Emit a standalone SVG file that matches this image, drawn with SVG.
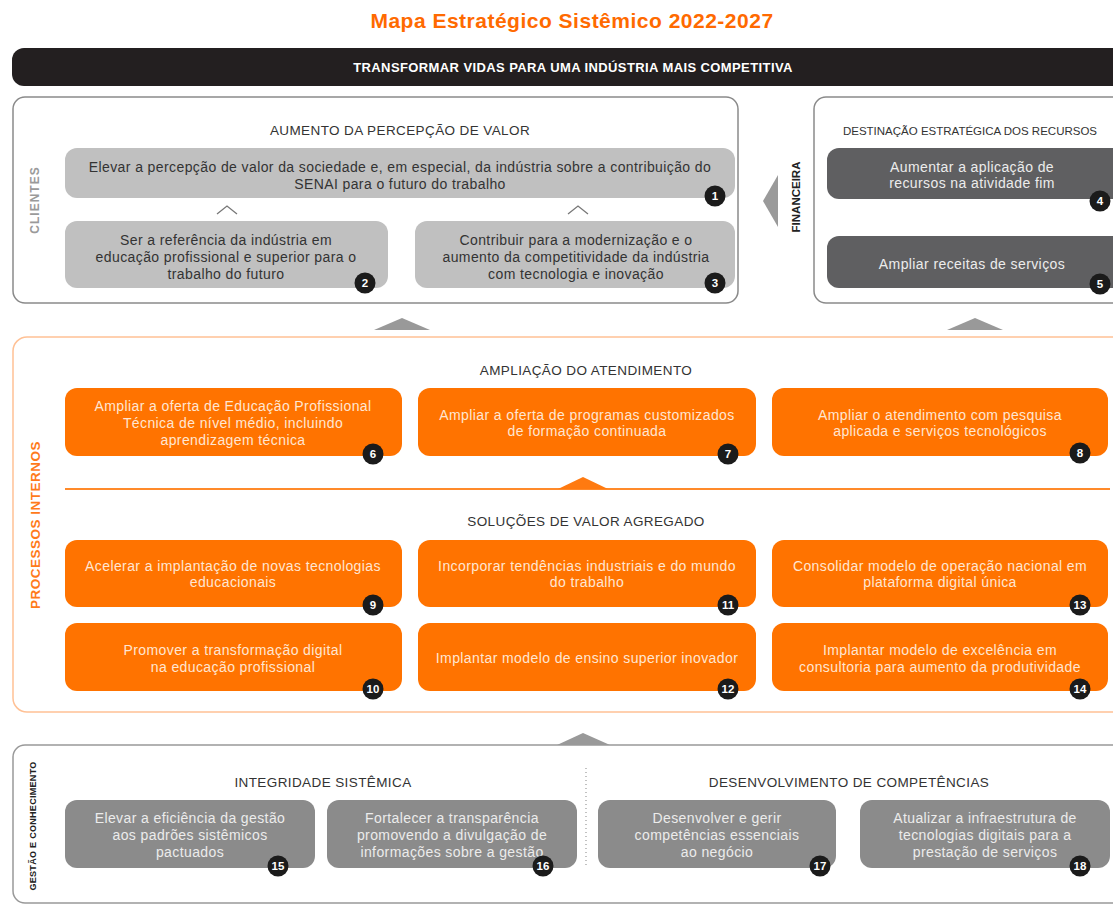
<svg xmlns="http://www.w3.org/2000/svg" width="1113" height="906" viewBox="0 0 1113 906">
<style>
text{font-family:"Liberation Sans",Arial,sans-serif}
.h{font-size:13.5px;fill:#333;text-anchor:middle;letter-spacing:0.4px}
.hs{font-size:11.5px;fill:#333;text-anchor:middle;letter-spacing:0}
.lg{fill:#c0c0c0}
.dg{fill:#5f5f61}
.mg{fill:#8b8b8b}
.or{fill:#ff7300}
.tl{font-size:14px;fill:#333;text-anchor:middle;letter-spacing:0.4px}
.tw{font-size:14px;fill:#ececec;text-anchor:middle;letter-spacing:0.4px}
.to{font-size:14px;fill:#ffe6d2;text-anchor:middle;letter-spacing:0.4px}
.bc{fill:#1b1b1b}
.bn{font-size:11.5px;font-weight:bold;fill:#fff;text-anchor:middle}
.vl{font-weight:bold;text-anchor:middle;dominant-baseline:central}
</style>
<rect width="1113" height="906" fill="#fff"/>
<text x="572" y="28" font-size="21" font-weight="bold" fill="#ff6a00" text-anchor="middle" letter-spacing="0.5">Mapa Estratégico Sistêmico 2022-2027</text>
<g id="mission">
<rect x="12" y="48" width="1120" height="38" rx="12" fill="#231f20"/>
<text x="573" y="72" font-size="13" font-weight="bold" fill="#fff" text-anchor="middle" letter-spacing="0.4">TRANSFORMAR VIDAS PARA UMA INDÚSTRIA MAIS COMPETITIVA</text>
</g>
<g id="frames">
<rect x="13" y="97" width="725" height="206" rx="12" fill="#fff" stroke="#8a8a8a" stroke-width="1.5"/>
<rect x="814" y="97" width="320" height="206" rx="12" fill="#fff" stroke="#8a8a8a" stroke-width="1.5"/>
<rect x="13" y="337" width="1120" height="375" rx="14" fill="#fff" stroke="#ffc195" stroke-width="1.5"/>
<rect x="13" y="745" width="1120" height="158" rx="12" fill="#fff" stroke="#999" stroke-width="1.5"/>
<text class="vl" transform="translate(35,200) rotate(-90)" font-size="12" letter-spacing="1" fill="#9a9a9a">CLIENTES</text>
<text class="vl" transform="translate(796,197) rotate(-90)" font-size="11.5" fill="#222">FINANCEIRA</text>
<text class="vl" transform="translate(35,525) rotate(-90)" font-size="13.5" letter-spacing="0.5" fill="#ff7a1a">PROCESSOS INTERNOS</text>
<text class="vl" transform="translate(33,826) rotate(-90)" font-size="9" letter-spacing="0.3" fill="#222">GESTÃO E CONHECIMENTO</text>
<text class="h" x="400" y="135">AUMENTO DA PERCEPÇÃO DE VALOR</text>
<text class="hs" x="970" y="135">DESTINAÇÃO ESTRATÉGICA DOS RECURSOS</text>
<text class="h" x="586" y="375">AMPLIAÇÃO DO ATENDIMENTO</text>
<text class="h" x="586" y="526">SOLUÇÕES DE VALOR AGREGADO</text>
<text class="h" x="323" y="787">INTEGRIDADE SISTÊMICA</text>
<text class="h" x="849" y="787">DESENVOLVIMENTO DE COMPETÊNCIAS</text>
</g>
<g id="connectors">
<polyline points="217,214 227,206 237,214" fill="none" stroke="#777" stroke-width="1.3"/>
<polyline points="568,214 578,206 588,214" fill="none" stroke="#777" stroke-width="1.3"/>
<polygon points="763,201 778,175 778,227" fill="#9a9a9a"/>
<polygon points="374,330 402,318 430,330" fill="#999"/>
<polygon points="947,330 975,318 1003,330" fill="#999"/>
<line x1="65" y1="489" x2="1110" y2="489" stroke="#ff8a2a" stroke-width="2"/>
<polygon points="558,489 583,477 608,489" fill="#ff7a10"/>
<polygon points="557,745 583,733 610,745" fill="#999"/>
<line x1="586" y1="768" x2="586" y2="868" stroke="#999" stroke-width="1.2" stroke-dasharray="1,3"/>
</g>
<g id="n1"><rect class="lg" x="65" y="148" width="670" height="50" rx="12"/>
<text class="tl" x="400" y="172">Elevar a percepção de valor da sociedade e, em especial, da indústria sobre a contribuição do</text>
<text class="tl" x="400" y="189">SENAI para o futuro do trabalho</text>
<circle class="bc" cx="715" cy="196" r="10.5"/><text class="bn" x="715" y="200">1</text></g>
<g id="n2"><rect class="lg" x="65" y="221" width="323" height="67" rx="12"/>
<text class="tl" x="226" y="245">Ser a referência da indústria em</text>
<text class="tl" x="226" y="262">educação profissional e superior para o</text>
<text class="tl" x="226" y="279">trabalho do futuro</text>
<circle class="bc" cx="365" cy="283" r="10.5"/><text class="bn" x="365" y="287">2</text></g>
<g id="n3"><rect class="lg" x="415" y="221" width="320" height="67" rx="12"/>
<text class="tl" x="576" y="245">Contribuir para a modernização e o</text>
<text class="tl" x="576" y="262">aumento da competitividade da indústria</text>
<text class="tl" x="576" y="279">com tecnologia e inovação</text>
<circle class="bc" cx="715" cy="283" r="10.5"/><text class="bn" x="715" y="287">3</text></g>
<g id="n4"><rect class="dg" x="827" y="148" width="300" height="51" rx="12"/>
<text class="tw" x="972" y="172">Aumentar a aplicação de</text>
<text class="tw" x="972" y="188">recursos na atividade fim</text>
<circle class="bc" cx="1100" cy="201" r="10.5"/><text class="bn" x="1100" y="205">4</text></g>
<g id="n5"><rect class="dg" x="827" y="236" width="300" height="52" rx="12"/>
<text class="tw" x="972" y="269">Ampliar receitas de serviços</text>
<circle class="bc" cx="1100" cy="284" r="10.5"/><text class="bn" x="1100" y="288">5</text></g>
<g id="n6"><rect class="or" x="65" y="388" width="337" height="68" rx="12"/>
<text class="to" x="233" y="411">Ampliar a oferta de Educação Profissional</text>
<text class="to" x="233" y="428">Técnica de nível médio, incluindo</text>
<text class="to" x="233" y="445">aprendizagem técnica</text>
<circle class="bc" cx="373" cy="454" r="10.5"/><text class="bn" x="373" y="458">6</text></g>
<g id="n7"><rect class="or" x="418" y="388" width="338" height="68" rx="12"/>
<text class="to" x="587" y="420">Ampliar a oferta de programas customizados</text>
<text class="to" x="587" y="436">de formação continuada</text>
<circle class="bc" cx="728" cy="454" r="10.5"/><text class="bn" x="728" y="458">7</text></g>
<g id="n8"><rect class="or" x="772" y="388" width="336" height="68" rx="12"/>
<text class="to" x="940" y="420">Ampliar o atendimento com pesquisa</text>
<text class="to" x="940" y="436">aplicada e serviços tecnológicos</text>
<circle class="bc" cx="1080" cy="453" r="10.5"/><text class="bn" x="1080" y="457">8</text></g>
<g id="n9"><rect class="or" x="65" y="540" width="337" height="67" rx="12"/>
<text class="to" x="233" y="571">Acelerar a implantação de novas tecnologias</text>
<text class="to" x="233" y="587">educacionais</text>
<circle class="bc" cx="373" cy="605" r="10.5"/><text class="bn" x="373" y="609">9</text></g>
<g id="n11"><rect class="or" x="418" y="540" width="338" height="67" rx="12"/>
<text class="to" x="587" y="571">Incorporar tendências industriais e do mundo</text>
<text class="to" x="587" y="587">do trabalho</text>
<circle class="bc" cx="728" cy="605" r="10.5"/><text class="bn" x="728" y="609">11</text></g>
<g id="n13"><rect class="or" x="772" y="540" width="336" height="67" rx="12"/>
<text class="to" x="940" y="571">Consolidar modelo de operação nacional em</text>
<text class="to" x="940" y="587">plataforma digital única</text>
<circle class="bc" cx="1080" cy="605" r="10.5"/><text class="bn" x="1080" y="609">13</text></g>
<g id="n10"><rect class="or" x="65" y="623" width="337" height="68" rx="12"/>
<text class="to" x="233" y="655">Promover a transformação digital</text>
<text class="to" x="233" y="672">na educação profissional</text>
<circle class="bc" cx="373" cy="689" r="10.5"/><text class="bn" x="373" y="693">10</text></g>
<g id="n12"><rect class="or" x="418" y="623" width="338" height="68" rx="12"/>
<text class="to" x="587" y="663">Implantar modelo de ensino superior inovador</text>
<circle class="bc" cx="728" cy="689" r="10.5"/><text class="bn" x="728" y="693">12</text></g>
<g id="n14"><rect class="or" x="772" y="623" width="336" height="68" rx="12"/>
<text class="to" x="940" y="655">Implantar modelo de excelência em</text>
<text class="to" x="940" y="672">consultoria para aumento da produtividade</text>
<circle class="bc" cx="1080" cy="689" r="10.5"/><text class="bn" x="1080" y="693">14</text></g>
<g id="n15"><rect class="mg" x="65" y="800" width="250" height="68" rx="12"/>
<text class="tw" x="190" y="823">Elevar a eficiência da gestão</text>
<text class="tw" x="190" y="840">aos padrões sistêmicos</text>
<text class="tw" x="190" y="857">pactuados</text>
<circle class="bc" cx="278" cy="866" r="10.5"/><text class="bn" x="278" y="870">15</text></g>
<g id="n16"><rect class="mg" x="327" y="800" width="250" height="68" rx="12"/>
<text class="tw" x="452" y="823">Fortalecer a transparência</text>
<text class="tw" x="452" y="840">promovendo a divulgação de</text>
<text class="tw" x="452" y="857">informações sobre a gestão</text>
<circle class="bc" cx="543" cy="866" r="10.5"/><text class="bn" x="543" y="870">16</text></g>
<g id="n17"><rect class="mg" x="598" y="800" width="238" height="68" rx="12"/>
<text class="tw" x="717" y="823">Desenvolver e gerir</text>
<text class="tw" x="717" y="840">competências essenciais</text>
<text class="tw" x="717" y="857">ao negócio</text>
<circle class="bc" cx="820" cy="866" r="10.5"/><text class="bn" x="820" y="870">17</text></g>
<g id="n18"><rect class="mg" x="860" y="800" width="250" height="68" rx="12"/>
<text class="tw" x="985" y="823">Atualizar a infraestrutura de</text>
<text class="tw" x="985" y="840">tecnologias digitais para a</text>
<text class="tw" x="985" y="857">prestação de serviços</text>
<circle class="bc" cx="1080" cy="866" r="10.5"/><text class="bn" x="1080" y="870">18</text></g>
</svg>
